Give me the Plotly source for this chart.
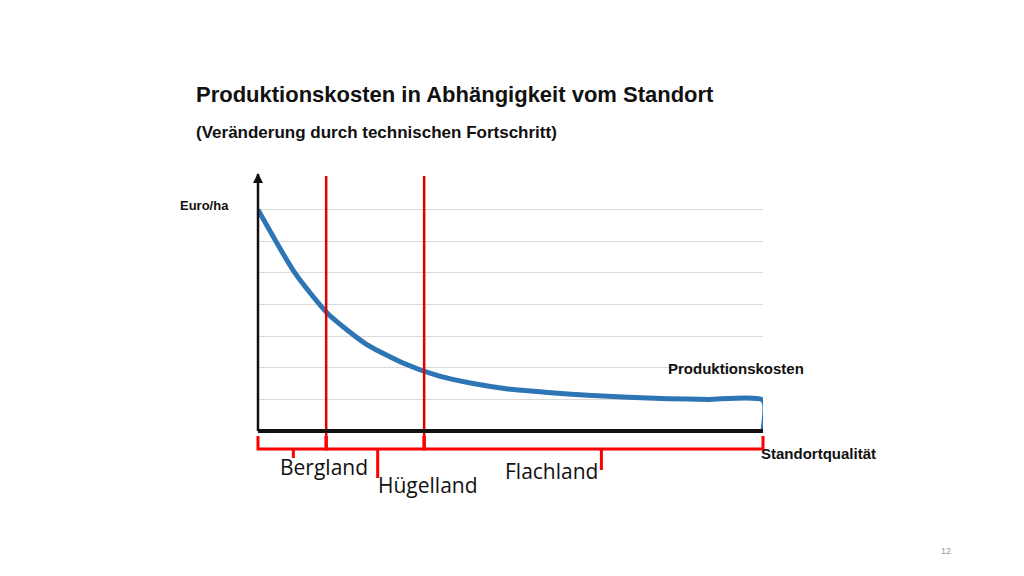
import plotly.graph_objects as go

# data
x_vals = [0, 0.73, 1.39, 2.14, 2.87, 3.56, 4.26, 4.95, 5.74, 6.53, 7.33, 8.12, 8.91, 10.0]
cost   = [7.0, 5.0, 3.7, 2.75, 2.15, 1.75, 1.5, 1.33, 1.22, 1.13, 1.07, 1.02, 1.0, 0.97]
boundaries = [1.35, 3.29]
regions = [("Bergland", 0, 1.35, 0.7), ("Hügelland", 1.35, 3.29, 2.37), ("Flachland", 3.29, 10.0, 6.8)]
label_pos = {"Bergland": (270, 475), "Hügelland": (368, 493), "Flachland": (592, 479)}
tip_depth = {"Bergland": 450, "Hügelland": 470, "Flachland": 462}

W, H = 1024, 576
L, R, T, B = 250, 755, 170, 423

def px(v):  # x data -> paper
    return v / 10.0
def py(p):  # pixel y -> paper
    return (B - p) / (B - T)

fig = go.Figure()
fig.add_trace(go.Scatter(x=x_vals + [x_vals[-1]], y=cost + [0], mode="lines",
                         line=dict(color="#2E75B6", width=5, shape="spline", smoothing=0.6),
                         hoverinfo="skip", showlegend=False, cliponaxis=False))

shapes = []
for b in boundaries:
    shapes.append(dict(type="line", xref="x", yref="paper", x0=b, x1=b, y0=py(440), y1=py(168),
                       line=dict(color="#E00000", width=2.5)))
shapes.append(dict(type="line", xref="paper", yref="paper", x0=0, x1=1, y0=0, y1=0,
                   line=dict(color="#111111", width=4)))
shapes.append(dict(type="line", xref="paper", yref="paper", x0=0, x1=0, y0=0, y1=py(166),
                   line=dict(color="#111111", width=2.5)))
for name, a, b, tip in regions:
    y_top, y_mid, y_tip = py(428), py(441), py(tip_depth[name])
    path = (f"M {px(a)},{y_top} L {px(a)},{y_mid} L {px(tip)},{y_mid} L {px(tip)},{y_tip} "
            f"L {px(tip)},{y_mid} L {px(b)},{y_mid} L {px(b)},{y_top}")
    shapes.append(dict(type="path", xref="paper", yref="paper", path=path,
                       line=dict(color="#FF0000", width=3)))

ann = []
ann.append(dict(x=0, y=py(165), ax=0, ay=14, xref="paper", yref="paper", axref="pixel", ayref="pixel",
                showarrow=True, arrowhead=2, arrowsize=1, arrowwidth=2, arrowcolor="#111111", text=""))
for name, (lx, ly) in label_pos.items():
    ann.append(dict(x=(lx - L) / (R - L), y=py(ly), xref="paper", yref="paper", text=name,
                    showarrow=False, font=dict(family="Open Sans", size=21, color="#111111")))
def txt(t, x, y, size, anchor="left", color="#111111", bold=True):
    ann.append(dict(x=(x - L) / (R - L), y=py(y), xref="paper", yref="paper",
                    text=f"<b>{t}</b>" if bold else t, showarrow=False, xanchor=anchor,
                    font=dict(family="Liberation Sans", size=size, color=color)))
txt("Produktionskosten in Abhängigkeit vom Standort", 186, 72, 22)
txt("(Veränderung durch technischen Fortschritt)", 186, 113, 17)
txt("Euro/ha", 170, 188, 13)
txt("Produktionskosten", 658, 371, 15)
txt("Standortqualität", 751, 456, 15)
txt("12", 945, 550, 9, anchor="right", color="#999999", bold=False)

fig.update_layout(
    width=W, height=H, margin=dict(l=L, r=W - R, t=T, b=H - B),
    paper_bgcolor="white", plot_bgcolor="white",
    xaxis=dict(range=[0, 10], showgrid=False, showticklabels=False, zeroline=False, ticks=""),
    yaxis=dict(range=[0, 8], dtick=1, showgrid=True, gridcolor="#D9D9D9", gridwidth=1,
               showticklabels=False, zeroline=False, ticks=""),
    shapes=shapes, annotations=ann,
)
fig.write_html("out.html")
